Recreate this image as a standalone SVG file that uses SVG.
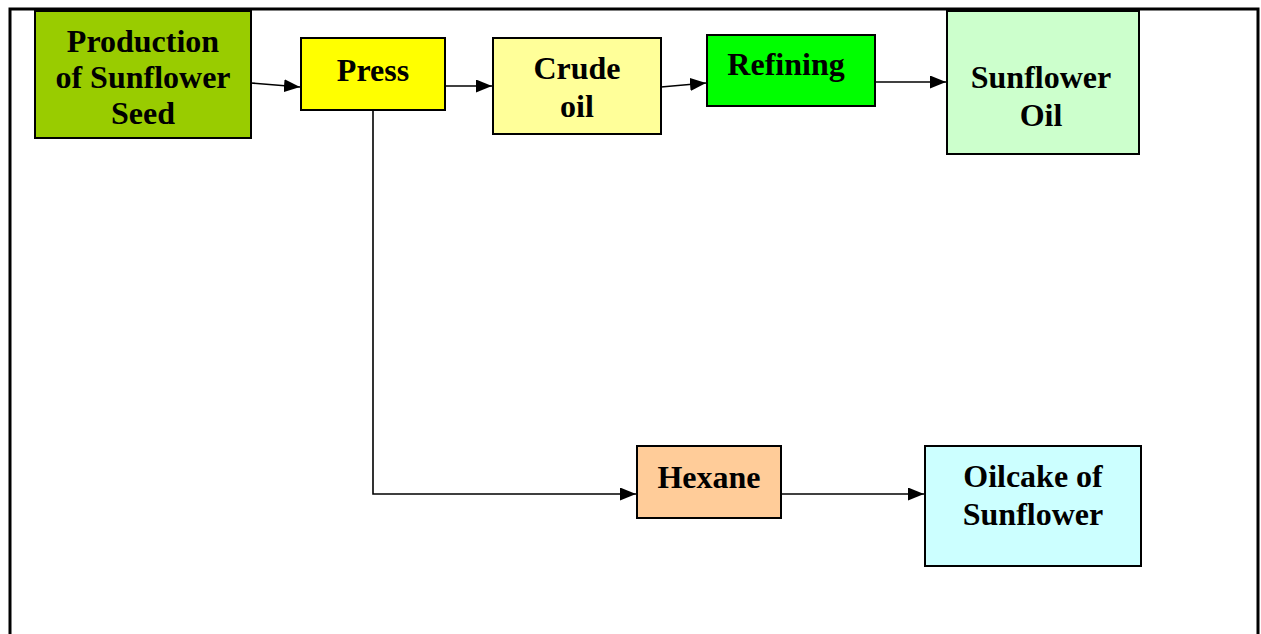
<svg xmlns="http://www.w3.org/2000/svg" width="1261" height="634" viewBox="0 0 1261 634">
<style>
.box{stroke:#000;stroke-width:2}
.t{font-weight:bold;font-size:32px;text-anchor:middle;fill:#000}
.c{fill:none;stroke:#000;stroke-width:1.6}
</style>
<defs>
<marker id="arr" markerWidth="16" markerHeight="13" refX="16" refY="6.5" orient="auto" markerUnits="userSpaceOnUse">
<path d="M0,0 L16,6.5 L0,13 Z" fill="#000"/>
</marker>
</defs>
<rect width="1261" height="634" fill="#fff"/>
<path d="M10,640 V9 H1258 V640" fill="none" stroke="#000" stroke-width="3"/>
<g id="connectors">
<line class="c" x1="251" y1="83" x2="300" y2="87" marker-end="url(#arr)"/>
<line class="c" x1="445" y1="86" x2="492" y2="86" marker-end="url(#arr)"/>
<line class="c" x1="661" y1="87" x2="706" y2="83" marker-end="url(#arr)"/>
<line class="c" x1="875" y1="82" x2="946" y2="82" marker-end="url(#arr)"/>
<polyline class="c" points="373,110 373,494 636,494" marker-end="url(#arr)"/>
<line class="c" x1="781" y1="494" x2="924" y2="494" marker-end="url(#arr)"/>
</g>
<g font-family="Liberation Serif, Times New Roman, DejaVu Serif, serif">
<g id="seed">
<rect class="box" x="35" y="11" width="216" height="127" fill="#99CC00"/>
<text class="t" x="143" y="52">Production</text>
<text class="t" x="143" y="88">of Sunflower</text>
<text class="t" x="143" y="124">Seed</text>
</g>
<g id="press">
<rect class="box" x="301" y="38" width="144" height="72" fill="#FFFF00"/>
<text class="t" x="373" y="81">Press</text>
</g>
<g id="crude">
<rect class="box" x="493" y="38" width="168" height="96" fill="#FFFF99"/>
<text class="t" x="577" y="79">Crude</text>
<text class="t" x="577" y="117">oil</text>
</g>
<g id="refining">
<rect class="box" x="707" y="35" width="168" height="71" fill="#00FF00"/>
<text class="t" x="786" y="75">Refining</text>
</g>
<g id="sunoil">
<rect class="box" x="947" y="11" width="192" height="143" fill="#CCFFCC"/>
<text class="t" x="1041" y="88">Sunflower</text>
<text class="t" x="1041" y="126">Oil</text>
</g>
<g id="hexane">
<rect class="box" x="637" y="446" width="144" height="72" fill="#FFCC99"/>
<text class="t" x="709" y="488">Hexane</text>
</g>
<g id="oilcake">
<rect class="box" x="925" y="446" width="216" height="120" fill="#CCFFFF"/>
<text class="t" x="1033" y="487">Oilcake of</text>
<text class="t" x="1033" y="525">Sunflower</text>
</g>
</g>
</svg>
